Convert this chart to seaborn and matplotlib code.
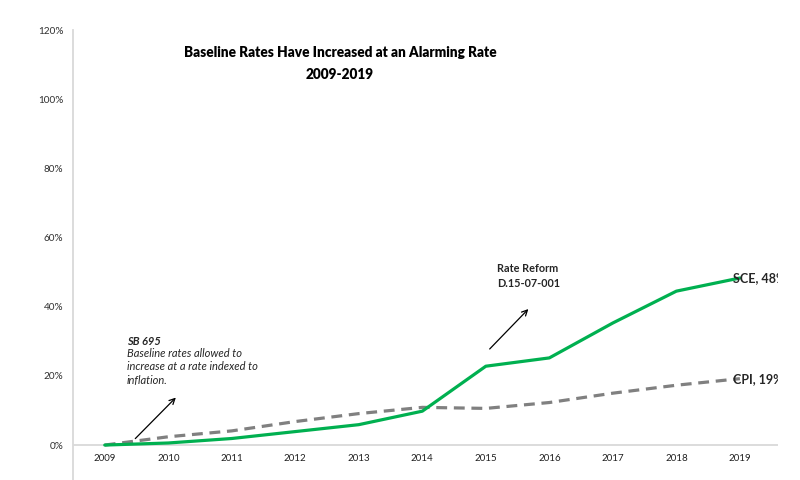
import pandas as pd
import matplotlib.pyplot as plt
import seaborn as sns

years = [2009, 2010, 2011, 2012, 2013, 2014, 2015, 2016, 2017, 2018, 2019]
sce = [0.0, 0.6, 1.9, 3.9, 5.9, 9.8, 22.8, 25.2, 35.3, 44.5, 48.3]
cpi = [0.0, 2.4, 4.1, 6.8, 9.1, 10.9, 10.6, 12.3, 15.0, 17.3, 19.2]
y_ticks = [0, 20, 40, 60, 80, 100, 120]

df = pd.DataFrame({"year": years, "SCE": sce, "CPI": cpi})

sns.set_style("white")
plt.rcParams["font.family"] = ["Lato", "DejaVu Sans"]

fig = plt.figure(figsize=(8, 4.8), dpi=100)
ax = fig.add_axes([73 / 800, 0, 705 / 800, 450 / 480])

sns.lineplot(data=df, x="year", y="CPI", ax=ax, color="#808080",
             linewidth=2.3, zorder=3)
ax.lines[-1].set_dashes([3.4, 2.1])
sns.lineplot(data=df, x="year", y="SCE", ax=ax, color="#00B050",
             linewidth=2.3, zorder=4)

ax.set_xlim(2008.5, 2019.6)
ax.set_ylim(-10.1, 120)
ax.axhline(0, color="#d9d9d9", linewidth=1.3, zorder=1)

for s in ["top", "right", "bottom"]:
    ax.spines[s].set_visible(False)
ax.spines["left"].set_color("#d9d9d9")
ax.spines["left"].set_linewidth(1.3)

ax.set_xticks([])
ax.set_yticks(y_ticks)
ax.set_yticklabels([f"{t}%" for t in y_ticks], fontsize=7.2, color="#303030")
ax.tick_params(axis="y", length=0, pad=7)
ax.set_xlabel("")
ax.set_ylabel("")

for yr in years:
    ax.text(yr, -3.8, str(yr), ha="center", va="center", fontsize=7,
            color="#202020")

# end labels, cut off by the plot edge like the original
ax.annotate("SCE, 48%", xy=(2019, sce[-1]), xytext=(-5, 0),
            textcoords="offset points", ha="left", va="center", fontsize=9,
            fontweight="bold", annotation_clip=False, clip_on=True, zorder=5)
ax.annotate("CPI, 19%", xy=(2019, cpi[-1]), xytext=(-5, 0),
            textcoords="offset points", ha="left", va="center", fontsize=9,
            fontweight="bold", annotation_clip=False, clip_on=True, zorder=5)

# SB 695 note
ax.annotate("", xy=(2010.15, 14.3), xytext=(2009.45, 1.3),
            arrowprops=dict(arrowstyle="->", color="black", lw=0.9))
ax.text(2009.35, 29.8, "SB 695", ha="left", va="center", fontsize=8,
        fontstyle="italic", fontweight="bold")
ax.text(2009.35, 22.6,
        "Baseline rates allowed to\nincrease at a rate indexed to\ninflation.",
        ha="left", va="center", fontsize=8, fontstyle="italic",
        linespacing=1.3)

# Rate reform note
ax.annotate("", xy=(2015.7, 39.9), xytext=(2015.03, 27.2),
            arrowprops=dict(arrowstyle="->", color="black", lw=0.9))
ax.text(2015.18, 48.9, "Rate Reform\nD.15-07-001", ha="left", va="center",
        fontsize=7.8, fontweight="bold", linespacing=1.5)

fig.text(0.425, 0.890, "Baseline Rates Have Increased at an Alarming Rate",
         ha="center", va="center", fontsize=9.8, fontweight="heavy",
         color="black")
fig.text(0.425, 0.845, "2009-2019", ha="center", va="center", fontsize=9.8,
         fontweight="heavy", color="black")

fig.savefig("out.png", dpi=100)
